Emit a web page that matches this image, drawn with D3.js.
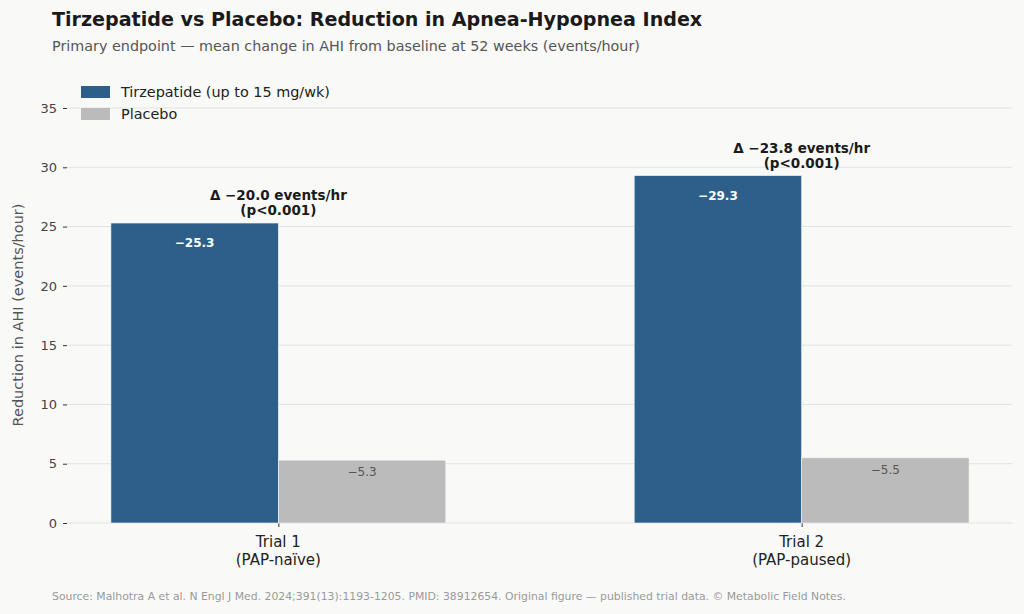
<!DOCTYPE html>
<html>
<head>
<meta charset="utf-8">
<script src="https://cdn.jsdelivr.net/npm/d3@7"></script>
<style>
  body { margin: 0; background: #f9f9f8; }
  svg { display: block; font-family: "DejaVu Sans", sans-serif; }
</style>
</head>
<body>
<svg width="1024" height="614"></svg>
<script>
// data
var trials = ["Trial 1\n(PAP-naïve)", "Trial 2\n(PAP-paused)"];
var tirzepatide = [25.3, 29.3];
var placebo = [5.3, 5.5];
var deltas = ["Δ −20.0 events/hr", "Δ −23.8 events/hr"];
var pvals = ["(p<0.001)", "(p<0.001)"];
var yTicks = [0, 5, 10, 15, 20, 25, 30, 35];

var svg = d3.select("svg");
svg.append("rect").attr("width", 1024).attr("height", 614).attr("fill", "#f9f9f8");

var barW = 0.32;
var x = d3.scaleLinear().domain([-0.402, 1.402]).range([68, 1012]);
var y = d3.scaleLinear().domain([0, 35]).range([523, 108]);

// grid
svg.append("g").selectAll("line").data(yTicks).enter().append("line")
  .attr("x1", 67).attr("x2", 1012)
  .attr("y1", function(d) { return y(d); }).attr("y2", function(d) { return y(d); })
  .attr("stroke", "#e2e2e2").attr("stroke-width", 1);

// y axis
var yAxis = svg.append("g").attr("transform", "translate(67,0)")
  .call(d3.axisLeft(y).tickValues(yTicks).tickSize(4).tickPadding(6));
yAxis.select(".domain").remove();
yAxis.selectAll("line").attr("stroke", "#333");
yAxis.selectAll("text").attr("fill", "#444").style("font-size", "13px").style("font-family", "DejaVu Sans");

// x axis
var xAxis = svg.append("g").attr("transform", "translate(0,523)")
  .call(d3.axisBottom(x).tickValues([0, 1]).tickSize(4).tickFormat(""));
xAxis.select(".domain").remove();
xAxis.selectAll("line").attr("stroke", "#333");
trials.forEach(function(t, i) {
  var lines = t.split("\n");
  var tx = svg.append("text").attr("x", x(i)).attr("y", 547)
    .attr("text-anchor", "middle").attr("fill", "#222").style("font-size", "15px");
  lines.forEach(function(l, j) {
    tx.append("tspan").attr("x", x(i)).attr("dy", j === 0 ? 0 : 18).text(l);
  });
});

// bars
var g = svg.append("g");
g.selectAll("rect.tz").data(tirzepatide).enter().append("rect").attr("class", "tz")
  .attr("x", function(d, i) { return x(i - barW); })
  .attr("width", x(barW) - x(0))
  .attr("y", function(d) { return y(d); })
  .attr("height", function(d) { return y(0) - y(d); })
  .attr("fill", "#2d5f8a").attr("stroke", "#f9f9f8").attr("stroke-width", 0.6);
g.selectAll("rect.pl").data(placebo).enter().append("rect").attr("class", "pl")
  .attr("x", function(d, i) { return x(i); })
  .attr("width", x(barW) - x(0))
  .attr("y", function(d) { return y(d); })
  .attr("height", function(d) { return y(0) - y(d); })
  .attr("fill", "#bbbbbb").attr("stroke", "#f9f9f8").attr("stroke-width", 0.6);

// value labels
g.selectAll("text.tzl").data(tirzepatide).enter().append("text")
  .attr("x", function(d, i) { return x(i - barW / 2); })
  .attr("y", function(d) { return y(d) + 24; })
  .attr("text-anchor", "middle").attr("fill", "#fff")
  .style("font-size", "12px").style("font-weight", "bold")
  .text(function(d) { return "−" + d.toFixed(1); });
g.selectAll("text.pll").data(placebo).enter().append("text")
  .attr("x", function(d, i) { return x(i + barW / 2); })
  .attr("y", function(d) { return y(d) + 16; })
  .attr("text-anchor", "middle").attr("fill", "#555")
  .style("font-size", "12px")
  .text(function(d) { return "−" + d.toFixed(1); });

// delta annotations
tirzepatide.forEach(function(d, i) {
  var top = y(d);
  svg.append("text").attr("x", x(i)).attr("y", top - 23)
    .attr("text-anchor", "middle").attr("fill", "#1a1a1a")
    .style("font-size", "13.5px").style("font-weight", "bold").text(deltas[i]);
  svg.append("text").attr("x", x(i)).attr("y", top - 8)
    .attr("text-anchor", "middle").attr("fill", "#1a1a1a")
    .style("font-size", "13.5px").style("font-weight", "bold").text(pvals[i]);
});

// y label
svg.append("text").attr("transform", "translate(23,315) rotate(-90)")
  .attr("text-anchor", "middle").attr("fill", "#555").style("font-size", "14.5px")
  .text("Reduction in AHI (events/hour)");

// legend
var leg = [["Tirzepatide (up to 15 mg/wk)", "#2d5f8a"], ["Placebo", "#bbbbbb"]];
leg.forEach(function(l, i) {
  svg.append("rect").attr("x", 81).attr("y", 86 + i * 22).attr("width", 29).attr("height", 12).attr("fill", l[1]);
  svg.append("text").attr("x", 121).attr("y", 97 + i * 22).attr("fill", "#222")
    .style("font-size", "14.4px").text(l[0]);
});

// titles
svg.append("text").attr("x", 52).attr("y", 26).attr("fill", "#1a1a1a")
  .style("font-size", "19.1px").style("font-weight", "bold")
  .text("Tirzepatide vs Placebo: Reduction in Apnea-Hypopnea Index");
svg.append("text").attr("x", 52).attr("y", 51).attr("fill", "#555")
  .style("font-size", "14.35px")
  .text("Primary endpoint — mean change in AHI from baseline at 52 weeks (events/hour)");
svg.append("text").attr("x", 52).attr("y", 600).attr("fill", "#999")
  .style("font-size", "10.85px")
  .text("Source: Malhotra A et al. N Engl J Med. 2024;391(13):1193-1205. PMID: 38912654. Original figure — published trial data. © Metabolic Field Notes.");
</script>
</body>
</html>
